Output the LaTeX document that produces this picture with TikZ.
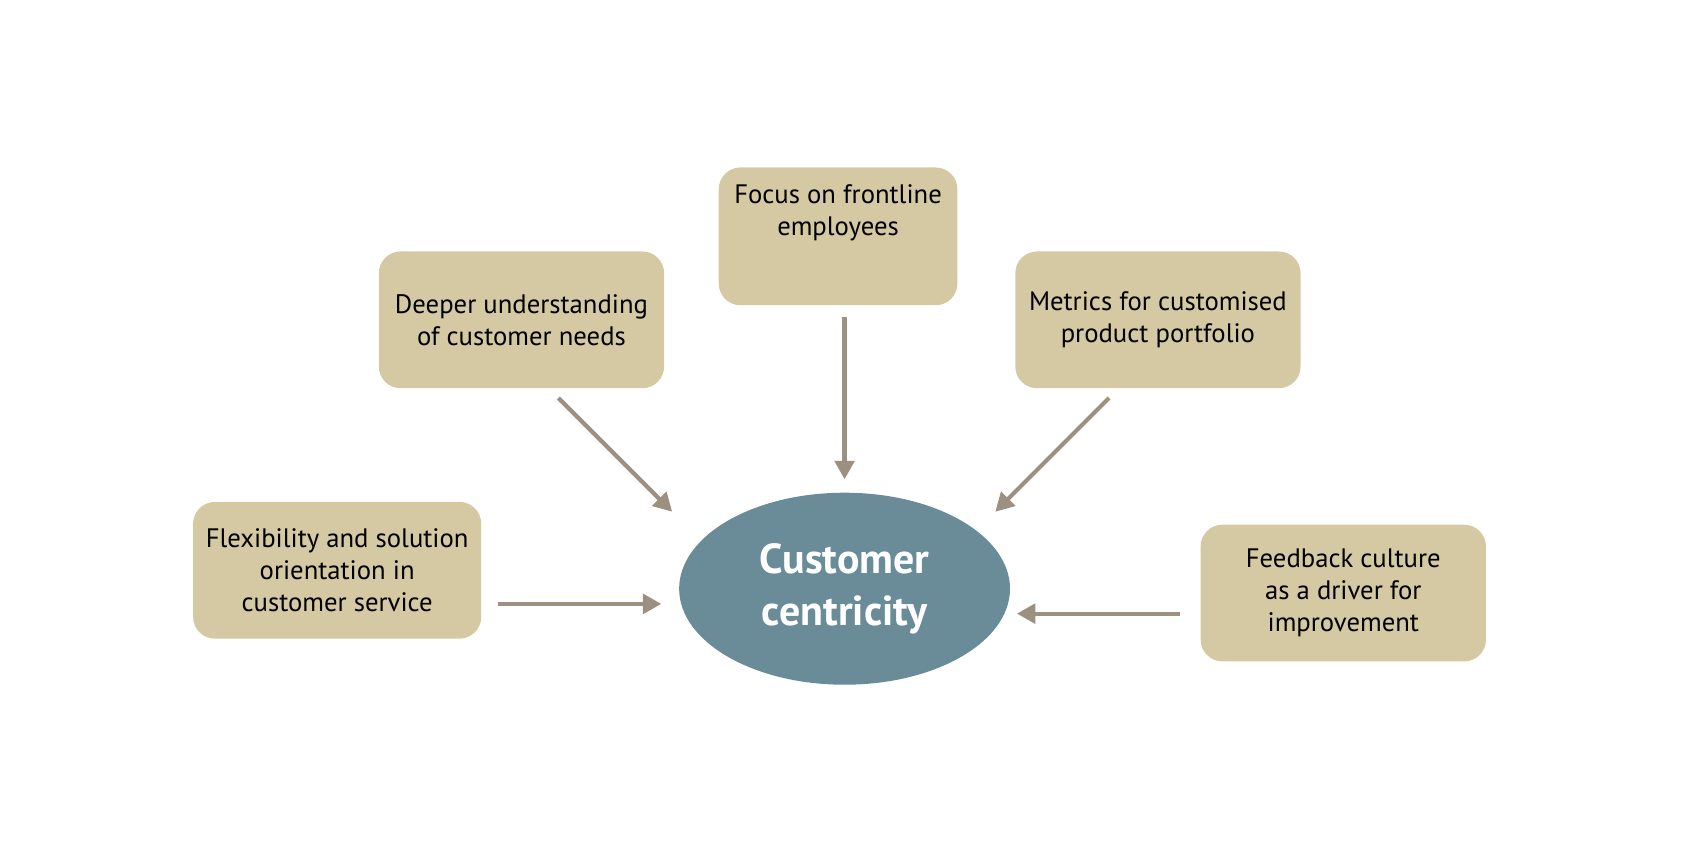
\documentclass[tikz,border=0pt]{standalone}
\usepackage{fontspec}
\setmainfont{PT Sans}
\usetikzlibrary{shapes.geometric,arrows.meta}
\definecolor{boxc}{HTML}{D4C9A3}
\definecolor{ellc}{HTML}{6A8B98}
\definecolor{arrc}{HTML}{9C9080}
\begin{document}
\begin{tikzpicture}[x=0.01cm,y=-0.01cm,
  box/.style={fill=boxc,rounded corners=0.2cm,minimum width=2.63cm,minimum height=1.26cm,align=center,font=\fontsize{7pt}{8.4pt}\selectfont,text=black},
  arr/.style={draw=arrc,line width=1.1pt,-{Triangle[length=0.17cm,width=0.18cm]}}]
\useasboundingbox (0,0) rectangle (1568,784);
\node[ellipse,fill=ellc,minimum width=3.05cm,minimum height=1.77cm,align=center,text=white,font=\fontsize{11pt}{13.5pt}\selectfont\bfseries] (c) at (779,543) {Customer\\centricity};
\node[box,minimum width=2.2cm,minimum height=1.27cm] (t) at (773,218) {Focus on frontline\\employees\\[0.8em]};
\node[box] (lu) at (481,295) {Deeper understanding\\of customer needs};
\node[box] (ru) at (1068,295) {Metrics for customised\\product portfolio};
\node[box] (l) at (311,526) {Flexibility and solution\\orientation in\\customer service};
\node[box] (r) at (1239,547) {Feedback culture\\as a driver for\\improvement};
\coordinate (a1) at (779,292); \coordinate (b1) at (779,442);
\coordinate (a2) at (515,367); \coordinate (b2) at (620,472);
\coordinate (a3) at (1023,367); \coordinate (b3) at (918,472);
\coordinate (a4) at (459,557); \coordinate (b4) at (610,557);
\coordinate (a5) at (1088,566); \coordinate (b5) at (938,566);
\draw[arr] (a1) -- (b1);
\draw[arr] (a2) -- (b2);
\draw[arr] (a3) -- (b3);
\draw[arr] (a4) -- (b4);
\draw[arr] (a5) -- (b5);
\end{tikzpicture}
\end{document}
